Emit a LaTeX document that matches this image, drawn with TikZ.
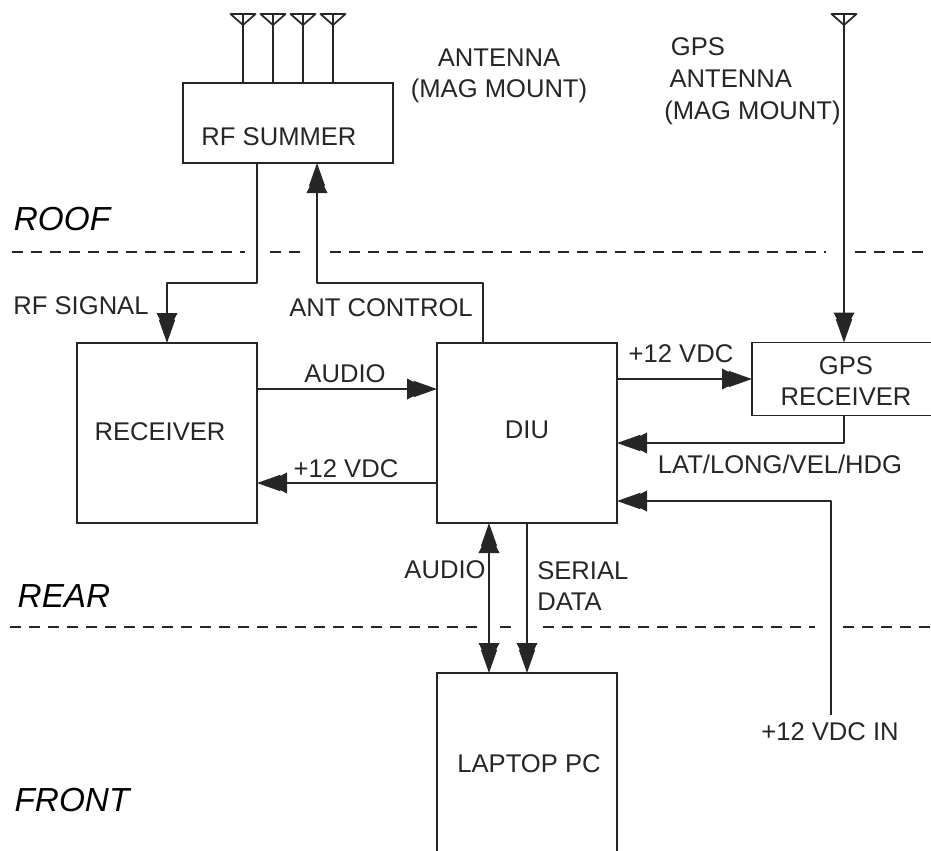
\documentclass[tikz,border=0pt]{standalone}
\usepackage{fontspec}
\setmainfont{Liberation Sans}
\usetikzlibrary{arrows.meta}
\definecolor{inkline}{HTML}{262626}
\tikzset{
  sbox/.style={draw=inkline,line width=1.3pt,rectangle,outer sep=0pt,inner sep=0pt},
  lbl/.style={inner sep=0pt,text=inkline,font=\fontsize{19.2}{23}\selectfont,align=center},
  zonelbl/.style={inner sep=0pt,text=black,font=\fontsize{25}{29}\selectfont\itshape},
  wire/.style={draw=inkline,line width=1.3pt,line join=round},
  sig/.style={wire,>={Triangle[length=15pt,width=15.5pt,sep=-10pt]Triangle[length=17.5pt,width=12pt]},->},
  zoneline/.style={draw=inkline,line width=1.3pt,dash pattern=on 8.25pt off 6pt}
}
\begin{document}
\begin{tikzpicture}[x=0.75pt,y=-0.75pt]
  \path[use as bounding box,clip] (0,0) rectangle (931,850);
  \foreach \xa/\xb/\yy in {12/245/252,270/303/252,330/826/252,855/931/252,10/480/627,500/515/627,543/815/627,843/931/627}
    \draw[zoneline] (\xa,\yy) -- (\xb,\yy);
  \node[sbox,minimum width=157.5pt,minimum height=60pt] (rfsummer) at (288,123) {};
  \node[sbox,minimum width=135pt,minimum height=135pt] (receiver) at (167,433) {};
  \node[sbox,minimum width=135pt,minimum height=135pt] (diu) at (527,433) {};
  \node[sbox,minimum width=138pt,minimum height=54.75pt] (gps) at (844,379) {};
  \node[sbox,minimum width=135pt,minimum height=136.5pt] (laptop) at (527,764) {};
  \foreach \xa in {243,273,303,333,844}
    \draw[wire] (\xa-12.5,14) -- (\xa+12.5,14) -- (\xa,25) -- cycle;
  \foreach \xa in {243,273,303,333} {
    \coordinate (ant\xa) at (\xa,14);
    \draw[wire] (ant\xa) -- (ant\xa |- rfsummer.north);
  }
  \coordinate (gpsant) at (844,14);
  \coordinate (vdcin) at (831,715);
  \draw[sig] (gpsant) -- (gps.north);
  \draw[sig] ([xshift=-23.25pt]rfsummer.south) -- ++(0,120) -| (receiver.north);
  \draw[sig] ([xshift=-33pt]diu.north) -- ++(0,-60) -| ([xshift=21.75pt]rfsummer.south);
  \draw[sig] ([yshift=33pt]receiver.east) -- ([yshift=33pt]diu.west);
  \draw[sig] ([yshift=-37.5pt]diu.west) -- ([yshift=-37.5pt]receiver.east);
  \draw[sig] (diu.east |- gps.west) -- (gps.west);
  \draw[sig] (gps.south) |- ([yshift=-7.5pt]diu.east);
  \draw[sig] (vdcin) |- ([yshift=-51pt]diu.east);
  \draw[sig,<->] ([xshift=-28.5pt]diu.south) -- ([xshift=-28.5pt]laptop.north);
  \draw[sig] (diu.south) -- (laptop.north);
  \node[lbl] (rfsummertxt) at (279,137) {RF SUMMER};
  \node[lbl] (receivertxt) at (160,432) {RECEIVER};
  \node[lbl] (diutxt) at (527,430) {DIU};
  \node[lbl] (gpstxt) at (846,381) {GPS\\RECEIVER};
  \node[lbl] (laptoptxt) at (529,764) {LAPTOP PC};
  \node[lbl] (antlbl) at (499,76) {ANTENNA\\(MAG MOUNT)};
  \node[lbl,align=left,anchor=west] (gpsantlbl) at (664,81) {\hspace*{5pt}GPS\\[1pt]\hspace*{4pt}ANTENNA\\[1pt](MAG MOUNT)};
  \node[lbl] (rfsiglbl) at (81,306) {RF SIGNAL};
  \node[lbl] (antctllbl) at (381,308) {ANT CONTROL};
  \node[lbl] (audiolbl) at (345,374) {AUDIO};
  \node[lbl] (rxvdclbl) at (346,469) {+12 VDC};
  \node[lbl] (gpsvdclbl) at (681,354) {+12 VDC};
  \node[lbl] (navlbl) at (780,464) {LAT/LONG/VEL/HDG};
  \node[lbl] (pcaudiolbl) at (445,570) {AUDIO};
  \node[lbl,align=left,anchor=west] (seriallbl) at (537,586) {SERIAL\\DATA};
  \node[lbl] (vdcinlbl) at (830,732) {+12 VDC IN};
  \node[zonelbl] (rooflbl) at (62,219) {ROOF};
  \node[zonelbl] (rearlbl) at (64,596) {REAR};
  \node[zonelbl] (frontlbl) at (72,800) {FRONT};
\end{tikzpicture}
\end{document}
